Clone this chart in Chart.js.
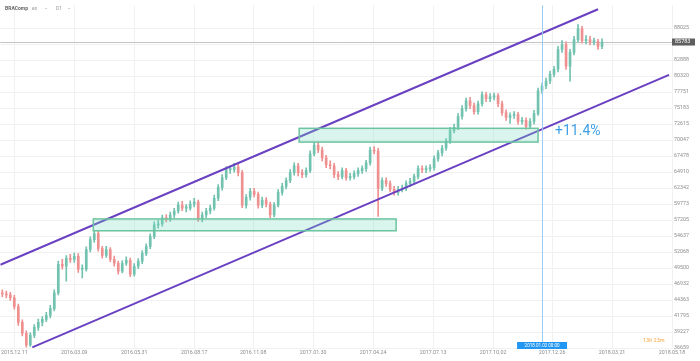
<!DOCTYPE html>
<html><head><meta charset="utf-8">
<script src="https://cdn.jsdelivr.net/npm/chart.js@4"></script>
<style>html,body{margin:0;padding:0;background:#fff;overflow:hidden}</style>
</head><body>
<canvas id="c" width="700" height="361"></canvas>
<script>
// ---- data ----
const symbolLabel = 'BRAComp';
const xTickDays = [14, 74, 134, 194, 253, 313, 373, 433, 493, 552, 612, 672];
const xTickLabels = ['2015.12.11','2016.03.09','2016.05.31','2016.08.17','2016.11.08','2017.01.30','2017.04.24','2017.07.13','2017.10.02','2017.12.26','2018.03.21','2018.05.18'];
const yTickValues = [88025, 85457, 82888, 80320, 77751, 75183, 72615, 70047, 67478, 64910, 62342, 59773, 57205, 54637, 52068, 49500, 46932, 44363, 41795, 39227, 36659];

const opens = [
45520,45360,45200,44730,43300,40770,39030,37140,38720,39980,
40770,41250,41880,42990,45520,50100,49790,51050,50900,51370,
49310,49310,52480,54060,55010,52630,51530,52480,50900,50260,
49000,50260,50740,48520,49790,50580,51840,52950,54530,56430,
56590,57540,57380,58010,58650,59600,59120,59120,59750,60070,
57380,58010,58650,59120,60700,62440,64020,65290,65290,65760,
64810,59600,60860,61810,61330,59600,60390,59750,58010,59600,
61650,62600,63550,64810,65920,64810,64500,65130,67820,69240,
68450,67190,66080,65920,64500,64180,65130,64020,64180,64660,
65130,65450,66390,68450,68290,62280,63550,63070,62120,61650,
62120,62280,63070,63390,64180,65450,65290,65450,65600,67030,
67980,68770,69870,71610,72090,73830,75090,76360,75570,74620,
75880,77310,76680,76990,77150,75880,74460,73670,73990,74140,
73040,73200,72250,73040,74300,77940,78730,79520,80630,81420,
84580,85370,81890,84110,86160,87900,86010,86160,85850,85850,
85060];
const closes = [
45360,45200,44730,43300,40770,39030,37140,38720,39980,40770,
41250,41880,42990,45520,50100,49790,51050,50900,51370,49310,
49310,52480,54060,55010,52630,51530,52480,50900,50260,49000,
50260,50740,48520,49790,50580,51840,52950,54530,56430,56590,
57540,57380,58010,58650,59600,59120,59120,59750,60070,57380,
58010,58650,59120,60700,62440,64020,65290,65290,65760,64810,
59600,60860,61810,61330,59600,60390,59750,58010,59600,61650,
62600,63550,64810,65920,64810,64500,65130,67820,69240,68450,
67190,66080,65920,64500,64180,65130,64020,64180,64660,65130,
65450,66390,68450,68290,62280,63550,63070,62120,61650,62120,
62280,63070,63390,64180,65450,65290,65450,65600,67030,67980,
68770,69870,71610,72090,73830,75090,76360,75570,74620,75880,
77310,76680,76990,77150,75880,74460,73670,73990,74140,73040,
73200,72250,73040,74300,77940,78730,79520,80630,81420,84580,
85370,81890,84110,86160,87900,86010,86160,85850,85850,85060,
85783];
const highs = [
46000,45800,45600,45100,43700,41200,39400,39100,40400,41300,
41700,42400,43500,46000,50600,50900,51500,51700,51900,51800,
50000,52900,54500,55500,55400,53000,53000,52800,51400,50600,
50700,51300,51100,50200,51000,52300,53400,55000,56900,57200,
58000,58100,58500,59100,60100,60200,59700,60300,60700,60400,
58500,59100,59600,61200,62900,64500,65800,65900,66300,66200,
65200,61300,62300,62300,61700,60900,60800,60100,60000,62100,
63100,64000,65300,66400,66300,65300,65600,68300,69700,69700,
68900,67600,66700,66300,65000,65600,65500,64700,65100,65600,
65900,66800,68900,69000,68700,64000,64000,63500,62600,62600,
62800,63500,63900,64600,65900,65900,65900,66100,67500,68400,
69200,70300,72100,72600,74300,75600,76800,76900,76000,76300,
77800,77700,77500,77600,77500,76300,74900,74400,74600,74500,
73700,73600,73500,74800,78400,79200,80000,81100,81900,85100,
86000,85800,84600,86700,88600,88300,86800,86700,86400,86200,
86300];
const lows = [
44900,44700,44300,42900,40300,38600,36800,36900,38300,39500,
40200,40900,41500,42600,45200,49300,47400,50400,50400,48800,
47900,49000,52100,53600,52200,51100,51200,50500,49800,48500,
48700,49900,48100,48200,49400,50200,51500,52600,54200,55900,
56200,56900,57000,57600,58300,58700,58500,58800,59300,57000,
56900,57600,58200,58800,60300,62000,63700,64700,64900,64300,
59200,59100,60400,60900,59100,59200,59300,57600,57700,59300,
61200,62200,63200,64400,64300,64000,64100,64800,67500,68000,
66700,65600,65400,64000,63700,63800,63600,63600,63800,64200,
64700,65000,66000,67800,57800,61900,62600,61700,61200,61200,
61700,61900,62600,63000,63800,64800,64800,65000,65200,66600,
67500,68400,69500,71200,71700,73400,74700,75100,74200,74200,
75500,76200,76200,76500,75400,74000,73200,72700,73500,72600,
72600,71800,71900,72600,74000,77500,78300,79100,80200,81000,
84100,81400,79500,83700,85800,85600,85500,85300,85300,84600,
84700];

// drawn objects (chart coordinates: trading day, index value)
const upperChannelDays = [0, 598];
const upperChannelValues = [50030, 91050];
const lowerChannelDays = [32, 669];
const lowerChannelValues = [36770, 80520];
const zoneLowDays = [93, 396];
const zoneLowValues = [55480, 57380];
const zoneHighDays = [299, 538];
const zoneHighValues = [69720, 71930];
const cursorDay = 542;
const cursorLabel = '2018.01.02 00:00';
const lastPrice = 85783;
const changeText = '+11.4%';
const changeAnchor = {day: 555, value: 71380};
const countdownText = '13h 23m';

const DAYS_PER_CANDLE = 4;
const candleDay = i => i * DAYS_PER_CANDLE + DAYS_PER_CANDLE / 2;
const UP = '#72c2b0', DOWN = '#ef9090';
const col = i => closes[i] >= opens[i] ? UP : DOWN;

const wickData = closes.map((c, i) => ({x: candleDay(i), y: [lows[i], highs[i]]}));
const bodyData = closes.map((c, i) => ({x: candleDay(i), y: [opens[i], closes[i]]}));
const colors = closes.map((c, i) => col(i));

const FONT = 'Roboto, "Noto Sans", sans-serif';

const overlay = {
  id: 'overlay',
  beforeDatasetsDraw(chart) {
    const {ctx, chartArea: a, scales: {x, y}} = chart;
    const py = Math.round(y.getPixelForValue(lastPrice)) + 0.5;
    ctx.save();
    ctx.strokeStyle = '#c4c4c4'; ctx.lineWidth = 1;
    ctx.beginPath(); ctx.moveTo(a.left, py); ctx.lineTo(a.right, py); ctx.stroke();
    ctx.restore();
  },
  afterDatasetsDraw(chart) {
    const {ctx, chartArea: a, scales: {x, y}} = chart;
    ctx.save();
    const zone = (days, vals) => {
      const x0 = x.getPixelForValue(days[0]), x1 = x.getPixelForValue(days[1]);
      const y0 = y.getPixelForValue(vals[1]), y1 = y.getPixelForValue(vals[0]);
      ctx.fillStyle = 'rgba(120, 220, 190, 0.28)';
      ctx.fillRect(x0, y0, x1 - x0, y1 - y0);
      ctx.strokeStyle = '#6cc4a0'; ctx.lineWidth = 1.5;
      ctx.strokeRect(x0, y0, x1 - x0, y1 - y0);
    };
    zone(zoneLowDays, zoneLowValues);
    zone(zoneHighDays, zoneHighValues);
    const cx = Math.round(x.getPixelForValue(cursorDay)) + 0.5;
    ctx.strokeStyle = '#9ccbf3'; ctx.lineWidth = 1;
    ctx.beginPath(); ctx.moveTo(cx, a.top); ctx.lineTo(cx, a.bottom); ctx.stroke();
    ctx.fillStyle = '#3f9fe6';
    ctx.font = '14px ' + FONT;
    ctx.textBaseline = 'middle'; ctx.textAlign = 'left';
    ctx.fillText(changeText, x.getPixelForValue(changeAnchor.day), y.getPixelForValue(changeAnchor.value));
    ctx.restore();
  },
  afterDraw(chart) {
    const {ctx, chartArea: a, scales: {x, y}} = chart;
    ctx.save();
    const py = y.getPixelForValue(lastPrice);
    ctx.fillStyle = '#5f5f5f';
    ctx.fillRect(a.right, py - 3.5, 23, 7);
    ctx.fillStyle = '#fff'; ctx.font = '5.5px ' + FONT;
    ctx.textBaseline = 'middle'; ctx.textAlign = 'left';
    ctx.fillText(String(lastPrice), a.right + 3, py);
    const cx = x.getPixelForValue(cursorDay);
    ctx.fillStyle = '#2196f3';
    ctx.fillRect(cx - 25, 342, 50, 7);
    ctx.fillStyle = '#fff'; ctx.font = '4.5px ' + FONT; ctx.textAlign = 'center';
    ctx.fillText(cursorLabel, cx, 345.5);
    ctx.fillStyle = '#f5a544'; ctx.font = '5.5px ' + FONT; ctx.textAlign = 'left';
    ctx.fillText(countdownText, 643, 341);
    ctx.fillStyle = '#666'; ctx.font = 'bold 5px ' + FONT;
    ctx.fillText(symbolLabel, 5, 9);
    ctx.fillStyle = '#999'; ctx.font = '5px ' + FONT;
    ctx.fillText('ex', 32, 9);
    ctx.fillText('\u2304', 44, 8);
    ctx.fillText('D1', 56, 9);
    ctx.fillText('\u2304', 67, 8);
    ctx.restore();
  }
};

new Chart(document.getElementById('c'), {
  type: 'bar',
  data: {
    datasets: [
      {type: 'line', data: upperChannelDays.map((d, i) => ({x: d, y: upperChannelValues[i]})), borderColor: '#6a40c2', borderWidth: 2, pointRadius: 0, order: 0},
      {type: 'line', data: lowerChannelDays.map((d, i) => ({x: d, y: lowerChannelValues[i]})), borderColor: '#6a40c2', borderWidth: 2, pointRadius: 0, order: 0},
      {data: wickData, backgroundColor: colors, barThickness: 1, grouped: false, order: 2},
      {data: bodyData, backgroundColor: colors, barThickness: 2, grouped: false, order: 1, minBarLength: 1}
    ]
  },
  options: {
    responsive: false, animation: false, devicePixelRatio: 1,
    layout: {padding: 0},
    plugins: {legend: {display: false}, tooltip: {enabled: false}},
    scales: {
      x: {
        type: 'linear', min: 0, max: 672, offset: false,
        grid: {offset: false, color: '#f1f1f1', drawTicks: false},
        border: {display: false},
        afterBuildTicks: s => { s.ticks = xTickDays.map(v => ({value: v})); },
        afterFit: s => { s.height = 13; },
        ticks: {
          autoSkip: false, maxRotation: 0, padding: 1, color: '#8c8c8c',
          font: {family: FONT, size: 5.3},
          callback: v => { const k = xTickDays.indexOf(v); return k >= 0 ? xTickLabels[k] : null; }
        }
      },
      y: {
        position: 'right', min: 36659, max: 91700,
        grid: {color: '#f1f1f1', drawTicks: false},
        border: {display: false},
        afterBuildTicks: s => { s.ticks = yTickValues.map(v => ({value: v})); },
        afterFit: s => { s.width = 28; },
        ticks: {
          padding: 2, color: '#8c8c8c', font: {family: FONT, size: 5.3},
          callback: v => String(v)
        }
      }
    }
  },
  plugins: [overlay]
});
</script>
</body></html>
